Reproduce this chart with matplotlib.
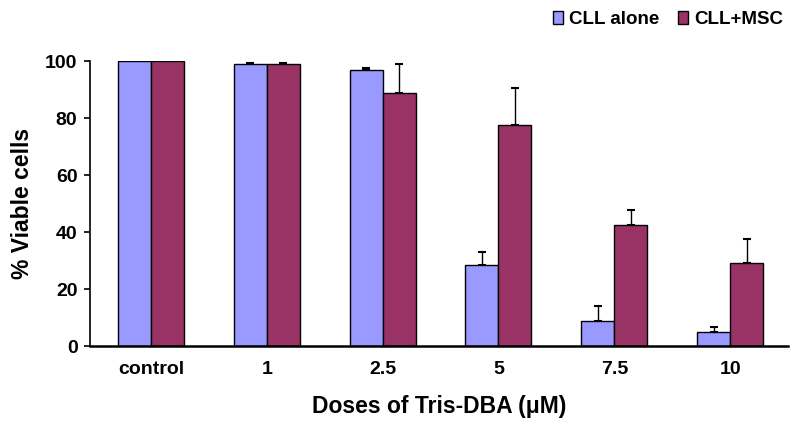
import matplotlib
matplotlib.use("Agg")
import matplotlib.pyplot as plt
import numpy as np
from matplotlib.patches import Patch

categories = ["control", "1", "2.5", "5", "7.5", "10"]
cll_alone = [100, 99.2, 96.8, 28.5, 8.9, 4.8]
cll_alone_err = [0, 0.3, 1.0, 4.4, 5.3, 2.0]
cll_msc = [100, 99.2, 88.8, 77.8, 42.5, 29.0]
cll_msc_err = [0, 0.3, 10.4, 13.0, 5.1, 8.5]
series_names = ["CLL alone", "CLL+MSC"]

c_blue = "#9999FF"
c_red = "#993366"

plt.rcParams['font.family'] = ['Liberation Sans', 'DejaVu Sans']
plt.rcParams['font.weight'] = 'bold'

fig = plt.figure(figsize=(8, 4.33), dpi=100)
ax = fig.add_axes([0.1125, 0.2009, 0.8725, 0.6575])

x = np.arange(len(categories))
w = 0.285
ax.bar(x - w/2, cll_alone, w, color=c_blue, edgecolor="black", linewidth=1.0, zorder=2)
ax.bar(x + w/2, cll_msc, w, color=c_red, edgecolor="black", linewidth=1.0, zorder=2)
ax.errorbar(x - w/2, cll_alone, yerr=[np.zeros(len(x)), cll_alone_err], fmt="none",
            ecolor="black", elinewidth=1.0, capsize=3, capthick=1.5, zorder=1)
ax.errorbar(x + w/2, cll_msc, yerr=[np.zeros(len(x)), cll_msc_err], fmt="none",
            ecolor="black", elinewidth=1.0, capsize=3, capthick=1.5, zorder=1)

ax.set_xlim(-0.527, 5.50)
ax.set_ylim(0, 100)
ax.set_yticks([0, 20, 40, 60, 80, 100])
ax.set_xticks(x)
ax.set_xticklabels(categories)
ax.tick_params(axis="x", length=0, pad=11, labelsize=14)
ax.tick_params(axis="y", length=4, width=1.2, direction="out", pad=5, labelsize=14)
for s in ["top", "right"]:
    ax.spines[s].set_visible(False)
ax.spines["left"].set_linewidth(1.2)
ax.spines["bottom"].set_linewidth(1.8)

ax.set_ylabel("% Viable cells", fontsize=16.5, fontweight="bold", labelpad=8)
ax.set_xlabel("Doses of Tris-DBA (μM)", fontsize=16.5, fontweight="bold", labelpad=12)

handles = [Patch(facecolor=c_blue, edgecolor="black", linewidth=1.0),
           Patch(facecolor=c_red, edgecolor="black", linewidth=1.0)]
fig.legend(handles, series_names, loc="upper right", bbox_to_anchor=(0.995, 1.005),
           ncol=2, frameon=False, fontsize=13.5, handlelength=0.55, handleheight=0.7,
           handletextpad=0.3, columnspacing=1.0, borderaxespad=0.3)

fig.savefig("out.png", dpi=100)
